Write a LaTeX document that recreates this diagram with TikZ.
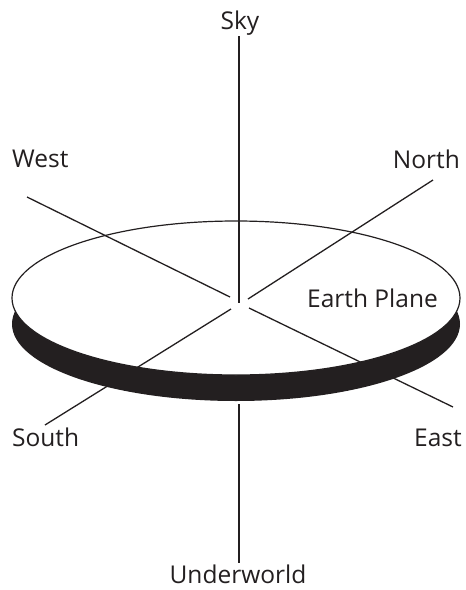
\documentclass[tikz,border=0pt]{standalone}
\usepackage{fontspec}
\setmainfont{Open Sans}
\definecolor{ink}{HTML}{231F20}
\begin{document}
\begin{tikzpicture}[x=1pt,y=-1pt,
  lbl/.style={inner sep=0pt,text=ink,font=\fontsize{24.5}{28}\selectfont},
  axis/.style={draw=ink,line width=1.3pt}]
\useasboundingbox (0,0) rectangle (466,590);
% disc shadow and top
\fill[ink] (236,324) ellipse [x radius=224, y radius=77];
\filldraw[fill=white,draw=ink,line width=1.2pt] (236,298) ellipse [x radius=224, y radius=77];
% labels
\node[lbl,anchor=base] (sky) at (240,29) {Sky};
\node[lbl,anchor=base west] (west) at (12,167) {West};
\node[lbl,anchor=base east] (north) at (460,168) {North};
\node[lbl,anchor=base] (earth) at (372.5,307) {Earth Plane};
\node[lbl,anchor=base west] (south) at (12,446) {South};
\node[lbl,anchor=base east] (east) at (462,446) {East};
\node[lbl,anchor=base] (under) at (238,583) {Underworld};
% axis end points
\coordinate (skyend) at (239,36);
\coordinate (skyin) at (239,303);
\coordinate (underin) at (239,404);
\coordinate (underend) at (239,563);
\coordinate (westend) at (27,197);
\coordinate (westin) at (230,297);
\coordinate (northend) at (433,180);
\coordinate (northin) at (248,299);
\coordinate (southend) at (45,425);
\coordinate (southin) at (231,309);
\coordinate (eastend) at (453,407);
\coordinate (eastin) at (249,308);
% axes
\draw[axis] (skyend) -- (skyin);
\draw[axis] (underin) -- (underend);
\draw[axis] (westend) -- (westin);
\draw[axis] (northend) -- (northin);
\draw[axis] (southend) -- (southin);
\draw[axis] (eastend) -- (eastin);
\end{tikzpicture}
\end{document}
